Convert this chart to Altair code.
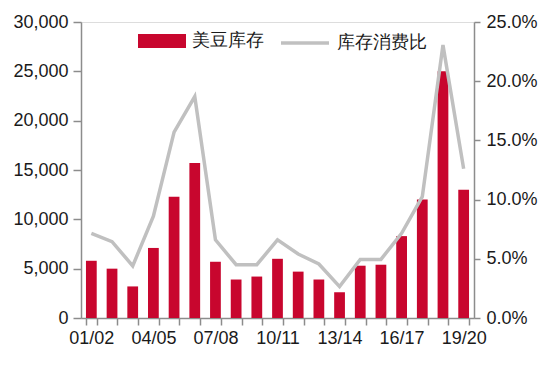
import altair as alt
import pandas as pd

seasons = ["01/02", "02/03", "03/04", "04/05", "05/06", "06/07", "07/08", "08/09", "09/10",
           "10/11", "11/12", "12/13", "13/14", "14/15", "15/16", "16/17", "17/18", "18/19", "19/20"]
stocks = [5800, 5000, 3200, 7100, 12300, 15700, 5700, 3900, 4200,
          6000, 4700, 3900, 2600, 5300, 5400, 8300, 12000, 25000, 13000]
ratio = [0.0715, 0.0645, 0.0440, 0.0860, 0.1570, 0.1870, 0.0660, 0.0450, 0.0450,
         0.0660, 0.0540, 0.0456, 0.0265, 0.0495, 0.0495, 0.0715, 0.1025, 0.2305, 0.1260]
shown_labels = ["01/02", "04/05", "07/08", "10/11", "13/14", "16/17", "19/20"]

df = pd.DataFrame({"season": seasons, "stocks": stocks, "ratio": ratio,
                   "s1": "美豆库存", "s2": "库存消费比"})

FONT = "Liberation Sans"
AX = "#8c8c8c"
TXT = "#1a1a1a"

label_expr = "indexof(" + str(shown_labels).replace(" ", "") + ", datum.value) >= 0 ? datum.label : ''"

x = alt.X("season:N", sort=seasons, title=None,
          scale=alt.Scale(paddingInner=0.48, paddingOuter=0.24),
          axis=alt.Axis(tickBand="extent", labelExpr=label_expr, labelAngle=0,
                        labelOverlap=False, labelFontSize=18, labelFont=FONT, labelColor=TXT,
                        domainColor=AX, tickColor=AX, tickSize=7, labelPadding=4,
                        domainWidth=1.5, tickWidth=1.5))

bars = alt.Chart(df).mark_bar(color="#C8062E").encode(
    x=x,
    y=alt.Y("stocks:Q", title=None,
            scale=alt.Scale(domain=[0, 30000], nice=False),
            axis=alt.Axis(values=[0, 5000, 10000, 15000, 20000, 25000, 30000], format=",d",
                          grid=False, labelFontSize=18, labelFont=FONT, labelColor=TXT,
                          domainColor=AX, tickColor=AX, tickSize=8, labelPadding=5,
                          domainWidth=1.5, tickWidth=1.5)),
    fill=alt.Fill("s1:N", title=None,
                  scale=alt.Scale(range=["#C8062E"]),
                  legend=alt.Legend(orient="none", legendX=57, legendY=-5, padding=0,
                                    symbolType="M-1,-0.29L1,-0.29L1,0.29L-1,0.29Z",
                                    symbolSize=2304, symbolStrokeWidth=0, labelOffset=6,
                                    labelFontSize=18, labelFont=FONT, labelColor=TXT)),
)

line = alt.Chart(df).mark_line(strokeWidth=3.5, color="#C0C0C0").encode(
    x=x,
    y=alt.Y("ratio:Q", title=None,
            scale=alt.Scale(domain=[0, 0.25], nice=False),
            axis=alt.Axis(orient="right", values=[0, 0.05, 0.10, 0.15, 0.20, 0.25], format=".1%",
                          grid=False, labelFontSize=18, labelFont=FONT, labelColor=TXT,
                          domainColor=AX, tickColor=AX, tickSize=6, labelPadding=6,
                          domainWidth=1.5, tickWidth=1.5)),
    stroke=alt.Stroke("s2:N", title=None,
                      scale=alt.Scale(range=["#C0C0C0"]),
                      legend=alt.Legend(orient="none", legendX=198, legendY=-5, padding=0,
                                        symbolType="stroke", symbolSize=2304,
                                        symbolStrokeWidth=3.5, labelOffset=6,
                                        labelFontSize=18, labelFont=FONT, labelColor=TXT)),
)

chart = alt.layer(bars, line).resolve_scale(y="independent").properties(
    width=393, height=296,
    autosize=alt.AutoSizeParams(type="none"),
    padding={"left": 73, "top": 14, "right": 68, "bottom": 41},
).configure_view(stroke=None).configure(background="white")

chart.save("out.html", embed_options={"renderer": "svg", "actions": False})
